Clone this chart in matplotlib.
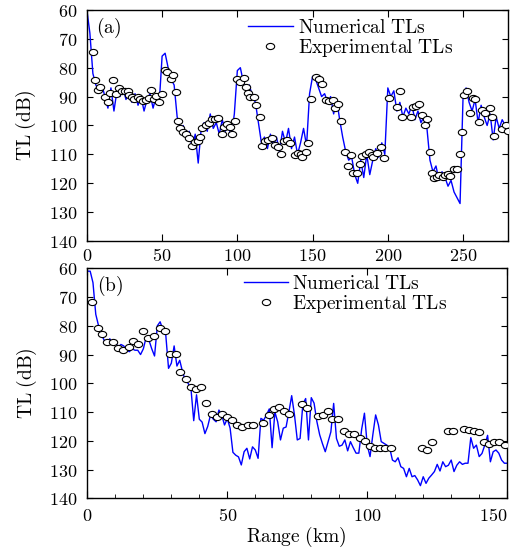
import matplotlib
matplotlib.use('Agg')
import matplotlib.pyplot as plt
import matplotlib.transforms as mtransforms
from matplotlib.path import Path
from matplotlib.ticker import FuncFormatter, MultipleLocator
import numpy as np

# ---- panel (a): numerical TL, every 2 km from 0 to 280 km
num_a_tl = [60, 68, 82, 86, 88, 86, 90, 94, 87, 95, 88, 90, 87, 91, 88, 92, 89, 93, 90, 95,
            91, 89, 94, 90, 93, 76, 75, 80, 84, 86, 97, 101, 100, 104, 102, 108, 103, 113, 101, 99,
            102, 96, 101, 99, 103, 98, 102, 100, 104, 96, 81, 80, 85, 88, 86, 90, 92, 99, 106, 104,
            108, 103, 107, 104, 109, 102, 106, 101, 108, 104, 110, 106, 101, 107, 89, 83, 84, 87, 90, 89,
            92, 90, 96, 91, 98, 104, 109, 112, 111, 117, 120, 112, 118, 110, 117, 112, 108, 111, 106, 110,
            87, 90, 88, 95, 92, 97, 94, 96, 93, 98, 95, 99, 97, 101, 112, 116, 114, 119, 116, 118,
            121, 119, 123, 125, 127, 90, 87, 92, 95, 91, 99, 93, 97, 100, 96, 105, 97, 101, 98, 100, 101]
num_a_range = list(range(0, 281, 2))

# ---- panel (a): experimental TL
exp_a_range = [3.8, 5.3, 7.1, 8.9, 12.2, 13.8, 15.6, 17.3, 19.6, 21.3, 23.3, 25.3, 27.1, 28.2, 29.8,
               31.6, 33.8, 35.6, 37.3, 39.3, 41.0, 42.7, 44.4, 46.2, 48.0, 50.2, 51.6, 53.3, 55.6, 57.3,
               59.1, 60.7, 62.0, 63.8, 66.2, 68.2, 70.2, 72.0, 73.8, 75.1, 76.7, 78.9, 80.9, 83.1, 85.1,
               87.3, 89.6, 91.3, 93.3, 95.3, 96.7, 98.4, 99.8, 101.6, 104.2, 105.6, 107.1, 108.7, 110.9, 112.2,
               114.9, 116.2, 118.4, 120.2, 123.3, 125.1, 127.1, 128.7, 130.7, 133.1, 135.1, 138.2, 140.4, 142.0, 143.1,
               145.3, 147.1, 148.9, 152.0, 154.2, 156.0, 158.9, 160.9, 163.6, 164.9, 167.1, 168.7, 171.8, 173.8, 175.6,
               177.1, 179.3, 181.6, 183.1, 185.3, 187.6, 189.3, 190.4, 192.7, 195.6, 197.6, 200.9, 206.2, 208.2, 209.3,
               215.6, 216.9, 218.7, 220.7, 222.4, 224.4, 226.2, 227.8, 229.6, 230.9, 232.7, 234.2, 236.4, 238.2, 240.0,
               241.6, 243.8, 246.0, 247.8, 249.3, 250.4, 252.7, 254.9, 256.9, 258.0, 260.9, 262.4, 264.7, 267.6, 269.3,
               270.4, 276.0, 278.2, 279.6]
exp_a_tl = [74.6, 84.1, 87.6, 86.8, 90.0, 91.9, 88.8, 84.4, 89.1, 86.9, 87.9, 87.9, 88.1, 89.6, 90.0,
            90.8, 90.3, 91.0, 91.5, 91.2, 90.6, 87.6, 91.0, 89.7, 91.9, 89.0, 80.9, 81.4, 83.8, 82.6,
            88.4, 98.3, 100.8, 102.2, 103.1, 104.2, 107.2, 105.7, 105.5, 104.0, 100.9, 100.0, 99.3, 97.9, 97.6,
            97.5, 103.0, 100.6, 99.5, 100.6, 103.0, 98.6, 83.8, 84.8, 83.6, 86.8, 88.7, 90.0, 90.3, 93.0,
            96.9, 107.2, 105.5, 104.9, 104.3, 106.9, 107.6, 109.9, 105.5, 105.1, 106.1, 110.3, 109.5, 109.8, 110.9,
            109.2, 105.9, 90.9, 83.1, 84.0, 85.8, 91.1, 91.4, 91.1, 94.0, 92.4, 98.5, 109.2, 114.1, 110.3,
            116.5, 116.5, 113.3, 110.7, 109.9, 109.3, 110.1, 110.9, 109.5, 107.4, 111.3, 90.5, 93.7, 88.2, 97.0,
            97.1, 93.7, 93.1, 92.5, 96.2, 99.9, 97.8, 109.2, 116.5, 118.3, 117.7, 117.0, 117.7, 117.0, 116.9,
            117.6, 115.2, 115.2, 109.8, 102.2, 89.4, 88.2, 95.8, 90.4, 91.0, 98.7, 94.8, 95.8, 94.1, 97.2,
            103.7, 101.3, 99.9, 101.8]

# ---- panel (b): numerical TL, every 1 km from 0 to 150 km
num_b_tl = [61, 61, 65, 76, 80, 83, 85, 86.5, 84.5, 86, 85.8, 87.4, 86.5, 87, 88.5, 89, 88, 88.5, 88.5, 90,
            88, 84, 85, 88, 90.5, 80, 78.6, 81.5, 83, 94.8, 93, 87, 94, 92, 96, 99, 100, 101.7, 113, 104,
            112.5, 113.5, 117.5, 115, 111, 112.5, 113.4, 109.3, 111, 114.5, 112.3, 115.6, 124, 125, 125.6, 128.4, 123.8, 122.6, 126.3, 122.1,
            123.2, 126.1, 112.2, 112.8, 111, 108.9, 122.4, 110, 113.4, 119.7, 115.6, 115.2, 110, 104.3, 111, 119.7, 119.2, 107.2, 105.3, 119.7,
            105, 106.9, 113.3, 117.9, 121, 123.8, 120.3, 116.9, 107, 119.2, 121.9, 121.5, 119.7, 123.5, 120.3, 122.4, 124.3, 124.3, 116, 110.4,
            121.5, 125.5, 117.9, 111, 114.5, 120.3, 120.9, 121.5, 122.4, 126.7, 127.3, 125.9, 129, 129.6, 132.5, 129.6, 132.5, 132.1, 133.6, 135.6,
            132.5, 134.8, 133, 131.9, 130.7, 128.2, 130.5, 127.3, 129, 128.5, 126.7, 130.7, 128.5, 127.3, 128.2, 127.8, 127.8, 118.9, 122.6, 121.5,
            125.5, 124.4, 121.5, 118.1, 127.3, 123.8, 123.2, 124.3, 126.7, 127.8, 127.8]
num_b_range = list(range(0, 151))

# ---- panel (b): experimental TL
exp_b_range = [1.6, 3.9, 5.4, 7.1, 9.1, 10.9, 12.6, 14.7, 16.4, 18.2, 20.0, 21.8, 23.8, 26.0, 27.9,
               29.5, 31.6, 33.1, 35.1, 37.0, 38.8, 40.6, 42.4, 44.4, 46.2, 48.0, 49.9, 51.7, 53.5, 55.4,
               57.3, 59.3, 62.9, 64.8, 66.6, 68.5, 70.3, 72.1, 76.6, 78.6, 82.3, 84.1, 85.9, 87.5, 89.6,
               91.7, 93.6, 95.4, 97.3, 99.2, 101.0, 102.8, 104.6, 106.4, 108.4, 119.4, 121.2, 123.0, 128.7, 130.6,
               134.4, 136.3, 138.2, 140.0, 141.7, 143.5, 145.4, 147.2, 149.1]
exp_b_tl = [71.6, 80.9, 83.0, 85.5, 85.5, 87.6, 88.4, 87.3, 85.2, 86.4, 81.8, 84.1, 83.4, 80.9, 81.8,
            89.9, 89.9, 96.0, 98.5, 101.2, 102.1, 101.4, 107.0, 110.6, 111.7, 110.6, 111.6, 112.8, 114.5, 115.2,
            114.4, 114.4, 113.9, 111.0, 109.0, 108.4, 109.8, 110.6, 107.3, 108.7, 111.4, 111.0, 109.5, 112.4, 112.4,
            116.6, 117.6, 117.6, 118.9, 119.9, 121.8, 122.4, 122.4, 122.4, 122.6, 122.6, 123.3, 120.5, 116.5, 116.5,
            115.9, 116.1, 116.5, 116.9, 120.3, 121.1, 120.3, 120.3, 121.5]

plt.rcParams['mathtext.fontset'] = 'cm'
plt.rcParams['font.family'] = 'serif'

ellipse = Path.unit_circle().transformed(mtransforms.Affine2D().scale(1.35, 1.0))

fig = plt.figure(figsize=(5.17, 5.48), dpi=100)
ax1 = fig.add_axes([0.168, 0.560, 0.815, 0.422])
ax2 = fig.add_axes([0.169, 0.0907, 0.812, 0.4197])

fmt = FuncFormatter(lambda v, p: r'$%d$' % v)


def style(ax, label, xlim, pad_x):
    ax.set_ylim(140, 60)
    ax.set_xlim(*xlim)
    ax.yaxis.set_major_locator(MultipleLocator(10))
    ax.xaxis.set_major_locator(MultipleLocator(50))
    ax.xaxis.set_major_formatter(fmt)
    ax.yaxis.set_major_formatter(fmt)
    ax.tick_params(which='both', direction='in', top=True, right=True, labelsize=13)
    ax.tick_params(axis='y', pad=7.0, length=4)
    ax.tick_params(axis='x', pad=pad_x, length=5)
    for s in ax.spines.values():
        s.set_linewidth(1.0)
    ax.text(0.022, 0.975, r'$\mathrm{(%s)}$' % label, transform=ax.transAxes,
            fontsize=14, va='top', ha='left')
    ax.set_ylabel(r'$\mathrm{TL\ (dB)}$', fontsize=14)
    ax.yaxis.set_label_coords(-0.115, 0.5)


for ax, xs, ys, ex, ey in [(ax1, num_a_range, num_a_tl, exp_a_range, exp_a_tl),
                           (ax2, num_b_range, num_b_tl, exp_b_range, exp_b_tl)]:
    ax.plot(xs, ys, color='#0000ff', lw=1.0, label=r'$\mathrm{Numerical\ TLs}$', zorder=2)
    ax.plot(ex, ey, ls='none', marker=ellipse, ms=6.0, mfc='white', mec='black', mew=0.8,
            label=r'$\mathrm{Experimental\ TLs}$', zorder=3)

style(ax1, 'a', (0, 280), 4.5)
style(ax2, 'b', (0, 150), 6)
ax2.xaxis.set_minor_locator(MultipleLocator(10))
ax2.tick_params(which='minor', direction='in', top=False, length=3)
ax2.set_xlabel(r'$\mathrm{Range\ (km)}$', fontsize=14)
ax2.xaxis.set_label_coords(0.497, -0.115)

ax1.legend(loc='upper left', bbox_to_anchor=(0.382, 0.96), frameon=False, fontsize=14,
           handlelength=2.3, handletextpad=0.3, labelspacing=0.0, borderpad=0, borderaxespad=0)
ax2.legend(loc='upper left', bbox_to_anchor=(0.372, 0.97), frameon=False, fontsize=14,
           handlelength=2.3, handletextpad=0.2, labelspacing=0.0, borderpad=0, borderaxespad=0)

fig.canvas.draw()
for t in ax2.get_xticklabels():
    if t.get_text() == r'$150$':
        t.set_ha('right')

fig.savefig('out.png', dpi=100)
